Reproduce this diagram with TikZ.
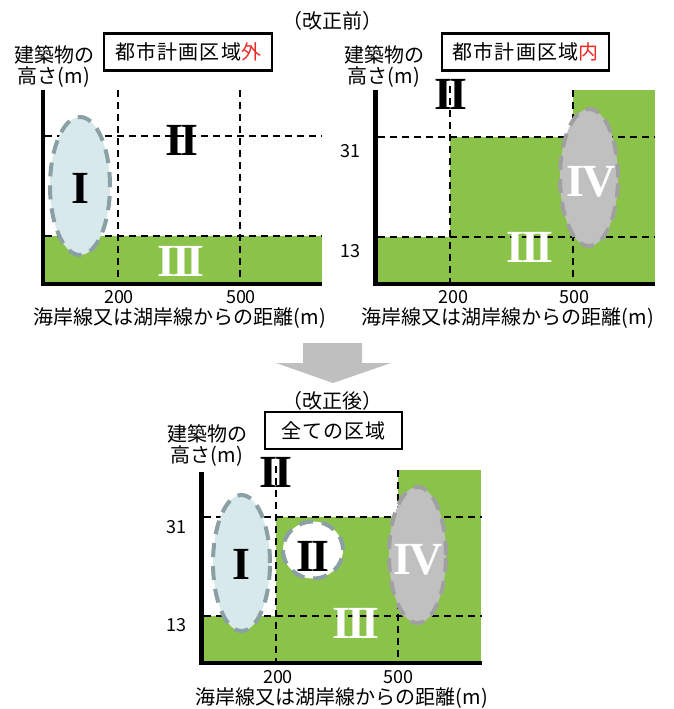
\documentclass[tikz,border=0pt]{standalone}
\usepackage{fontspec}
\newfontfamily\jp{Noto Sans CJK JP}
\newfontfamily\jpsp{Noto Sans CJK JP}[LetterSpace=6]
\newfontfamily\rmn{Liberation Serif}
\definecolor{grn}{RGB}{139,195,74}
\definecolor{eIfill}{RGB}{216,233,236}
\definecolor{eIdraw}{RGB}{138,160,164}
\definecolor{eIVfill}{RGB}{192,192,192}
\definecolor{eIVdraw}{RGB}{160,160,160}
\definecolor{arrowgray}{RGB}{191,191,191}
\definecolor{redtxt}{RGB}{235,40,35}
\newcommand\rnI{I}
\newcommand\rnII{I\kern-.08emI}
\newcommand\rnIII{I\kern-.08emI\kern-.08emI}
\newcommand\rnIV{I\kern-.06emV}
\tikzset{
  axisline/.style={line width=4.5pt},
  gridline/.style={line width=1.8pt, dash pattern=on 7pt off 5pt},
  greenzone/.style={fill=grn, draw=none},
  ellI/.style={fill=eIfill, draw=eIdraw, line width=4pt, dash pattern=on 14pt off 9pt},
  ellII/.style={fill=white, draw=eIdraw, line width=4pt, dash pattern=on 14pt off 9pt},
  ellIV/.style={fill=eIVfill, draw=eIVdraw, line width=4pt, dash pattern=on 14pt off 9pt},
  numblack/.style={font=\rmn\bfseries\fontsize{46}{46}\selectfont, inner sep=0pt, text=black},
  numwhite/.style={numblack, text=white},
  titlebox/.style={draw, line width=2.5pt, minimum height=37pt, inner sep=0pt, font=\jpsp\fontsize{20}{22}\selectfont},
  ylab/.style={font=\jp\fontsize{20}{21}\selectfont, align=center, inner sep=0pt},
  xlab/.style={font=\jp\fontsize{20}{22}\selectfont, inner sep=0pt},
  tick/.style={font=\jp\fontsize{18}{20}\selectfont, inner sep=0pt},
  captxt/.style={font=\jp\fontsize{20}{22}\selectfont, inner sep=0pt},
}
\begin{document}
\begin{tikzpicture}[x=1pt,y=-1pt]
\useasboundingbox (0,0) rectangle (673,709);

% ---------- Panel 1 ----------
\fill[greenzone] (43,236) rectangle (322,284);
\draw[gridline] (45,136) -- (322,136);
\draw[gridline] (45,236) -- (322,236);
\draw[gridline] (118,90) -- (118,283);
\draw[gridline] (240,90) -- (240,283);
\draw[ellI] (80,186) ellipse [x radius=30pt, y radius=69pt];
\node[numblack] (p1I) at (80,188) {\rnI};
\node[numblack] (p1II) at (182,140) {\rnII};
\node[numwhite] (p1III) at (181,261) {\rnIII};
\draw[axisline] (43,90) -- (43,284) -- (322,284);
\node[titlebox, minimum width=168pt] (t1) at (188,52) {都市計画区域\textcolor{redtxt}{外}};
\node[ylab] (y1) at (54,67) {建築物の\\高さ(m)};
\node[tick] (x1a) at (119,297) {200};
\node[tick] (x1b) at (241,297) {500};
\node[xlab] (xl1) at (180,318) {海岸線又は湖岸線からの距離(m)};
\node[captxt] (cap1) at (332.5,21) {\kern-.5em（改正前）\kern-.5em};

% ---------- Panel 2 ----------
\fill[greenzone] (376,237) rectangle (655,284);
\fill[greenzone] (450,137) rectangle (655,237);
\fill[greenzone] (573,90) rectangle (655,137);
\node[numblack] (p2II) at (451,94) {\rnII};
\draw[gridline] (378,137) -- (655,137);
\draw[gridline] (378,237) -- (655,237);
\draw[gridline] (450,86) -- (450,283);
\draw[gridline] (573,90) -- (573,283);
\draw[ellIV] (589,177.5) ellipse [x radius=29pt, y radius=68.5pt];
\node[numwhite] (p2IV) at (591,182) {\rnIV};
\node[numwhite] (p2III) at (530,247) {\rnIII};
\draw[axisline] (375.5,90) -- (375.5,284) -- (655,284);
\node[titlebox, minimum width=167pt] (t2) at (525.5,52) {都市計画区域\textcolor{redtxt}{内}};
\node[ylab] (y2) at (384,67) {建築物の\\高さ(m)};
\node[tick] (y2a) at (350,151) {31};
\node[tick] (y2b) at (350,251) {13};
\node[tick] (x2a) at (453,297) {200};
\node[tick] (x2b) at (574,297) {500};
\node[xlab] (xl2) at (508,318) {海岸線又は湖岸線からの距離(m)};

% ---------- Arrow ----------
\fill[arrowgray] (303,343) -- (362,343) -- (362,363) -- (391,363) -- (333,383)
  -- (276,363) -- (303,363) -- cycle;
\node[captxt] (cap2) at (332.5,401) {\kern-.5em（改正後）\kern-.5em};

% ---------- Panel 3 ----------
\fill[greenzone] (202,616) rectangle (481,663);
\fill[greenzone] (276,517) rectangle (481,616);
\fill[greenzone] (398,470) rectangle (481,517);
\node[numblack] (p3IItop) at (276,472) {\rnII};
\draw[gridline] (204,517) -- (482,517);
\draw[gridline] (204,616) -- (482,616);
\draw[gridline] (276,466) -- (276,663);
\draw[gridline] (398,470) -- (398,663);
\draw[ellI] (241.5,563) ellipse [x radius=28.5pt, y radius=68pt];
\draw[ellII] (313,550) ellipse [x radius=30pt, y radius=28.5pt];
\draw[ellIV] (417.5,555) ellipse [x radius=28.5pt, y radius=68pt];
\node[numblack] (p3I) at (241,564) {\rnI};
\node[numblack] (p3II) at (313,556) {\rnII};
\node[numwhite] (p3IV) at (418,560) {\rnIV};
\node[numwhite] (p3III) at (356,623) {\rnIII};
\draw[axisline] (201.5,472) -- (201.5,663) -- (482,663);
\node[titlebox, minimum width=137pt] (t3) at (333.5,430.5) {全ての区域};
\node[ylab] (y3) at (207,446) {建築物の\\高さ(m)};
\node[tick] (y3a) at (176,527) {31};
\node[tick] (y3b) at (176,625) {13};
\node[tick] (x3a) at (278,677) {200};
\node[tick] (x3b) at (398,677) {500};
\node[xlab] (xl3) at (342,698) {海岸線又は湖岸線からの距離(m)};
\end{tikzpicture}
\end{document}
